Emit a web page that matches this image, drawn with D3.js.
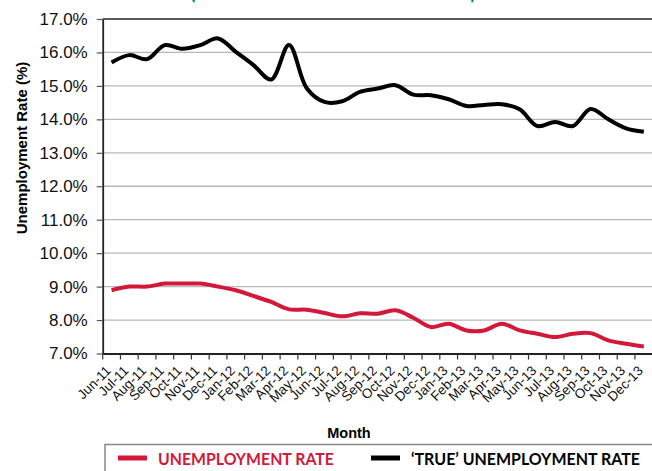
<!DOCTYPE html>
<html>
<head>
<meta charset="utf-8">
<script src="https://cdn.jsdelivr.net/npm/d3@7"></script>
<style>
  body { margin: 0; background: #fff; }
  svg { display: block; }
</style>
</head>
<body>
<script>
var width = 652, height = 471;

var months = ["Jun-11","Jul-11","Aug-11","Sep-11","Oct-11","Nov-11","Dec-11",
  "Jan-12","Feb-12","Mar-12","Apr-12","May-12","Jun-12","Jul-12","Aug-12","Sep-12","Oct-12","Nov-12","Dec-12",
  "Jan-13","Feb-13","Mar-13","Apr-13","May-13","Jun-13","Jul-13","Aug-13","Sep-13","Oct-13","Nov-13","Dec-13"];

// official rate (red)
var unemployment = [8.89, 9.0, 9.0, 9.09, 9.09, 9.09, 9.0,
  8.89, 8.72, 8.54, 8.32, 8.31, 8.21, 8.11, 8.2, 8.19, 8.29, 8.07, 7.79,
  7.89, 7.69, 7.69, 7.89, 7.69, 7.59, 7.49, 7.59, 7.61, 7.39, 7.29, 7.21];

// 'true' rate (black)
var trueRate = [15.70, 15.92, 15.80, 16.22, 16.11, 16.22, 16.42,
  16.02, 15.62, 15.19, 16.22, 14.93, 14.52, 14.54, 14.82, 14.92, 15.02, 14.74, 14.72,
  14.60, 14.40, 14.43, 14.45, 14.30, 13.80, 13.92, 13.80, 14.31, 14.00, 13.73, 13.63];

var yTicks = [7, 8, 9, 10, 11, 12, 13, 14, 15, 16, 17];

var redColor = "#d2193a";
var greenColor = "#00876a";

var plotLeft = 102.7, plotRight = 652.7, plotTop = 19, plotBottom = 353.5;

var svg = d3.select("body").append("svg")
  .attr("width", width)
  .attr("height", height);

var x = d3.scaleBand().domain(months).range([plotLeft, plotRight]).padding(0);
var y = d3.scaleLinear().domain([7, 17]).range([plotBottom, plotTop]);
var bw = x.bandwidth();

// cut-off subtitle at top
svg.append("text")
  .attr("x", 190).attr("y", -1)
  .attr("textLength", 286).attr("lengthAdjust", "spacingAndGlyphs")
  .style("font-family", "Lato, sans-serif").style("font-weight", "bold")
  .style("font-size", "22px").attr("fill", greenColor)
  .text("(JUNE 2011 – DECEMBER 2013)");

// gridlines
svg.append("g").selectAll("line")
  .data(yTicks.slice(1))
  .enter().append("line")
  .attr("x1", plotLeft).attr("x2", width)
  .attr("y1", function(d) { return y(d); })
  .attr("y2", function(d) { return y(d); })
  .attr("stroke", function(d) { return d == 17 ? "#222" : "#b8b8b8"; })
  .attr("stroke-width", function(d) { return d == 17 ? 1.6 : 1.3; });

// y axis
var yAxis = svg.append("g")
  .attr("transform", "translate(" + plotLeft + ",0)")
  .call(d3.axisLeft(y).tickValues(yTicks).tickSize(6).tickSizeOuter(0)
    .tickFormat(function(d) { return d.toFixed(1) + "%"; }));
yAxis.select(".domain").attr("stroke", "#222").attr("stroke-width", 1.8);
yAxis.selectAll(".tick line").attr("stroke", "#555").attr("stroke-width", 1.2);
yAxis.selectAll(".tick text")
  .attr("x", -15)
  .style("font-family", "'Liberation Sans', Arial, sans-serif")
  .style("font-size", "17px").attr("fill", "#111");

// x axis, ticks on the category edges
var xAxis = svg.append("g")
  .attr("transform", "translate(0," + plotBottom + ")")
  .call(d3.axisBottom(x).tickSize(6).tickSizeOuter(0));
xAxis.select(".domain").attr("stroke", "#222").attr("stroke-width", 1.8);
xAxis.selectAll(".tick line")
  .attr("x1", -bw / 2).attr("x2", -bw / 2)
  .attr("stroke", "#333").attr("stroke-width", 1.2);
xAxis.selectAll(".tick text")
  .attr("text-anchor", "end")
  .attr("y", 0).attr("dy", 0)
  .attr("transform", "translate(0,18) rotate(-45)")
  .style("font-family", "'Liberation Sans', Arial, sans-serif")
  .style("font-size", "13.5px").attr("fill", "#111");

// axis titles
svg.append("text")
  .attr("transform", "translate(27,148) rotate(-90)")
  .attr("text-anchor", "middle")
  .style("font-family", "'Liberation Sans', Arial, sans-serif")
  .style("font-weight", "bold").style("font-size", "15px")
  .text("Unemployment Rate (%)");

svg.append("text")
  .attr("x", 349).attr("y", 438)
  .attr("text-anchor", "middle")
  .style("font-family", "'Liberation Sans', Arial, sans-serif")
  .style("font-weight", "bold").style("font-size", "14.5px")
  .text("Month");

// lines
var line = d3.line()
  .x(function(d, i) { return x(months[i]) + bw / 2; })
  .y(function(d) { return y(d); })
  .curve(d3.curveCatmullRom.alpha(0.5));

svg.append("path")
  .datum(trueRate)
  .attr("d", line)
  .attr("fill", "none")
  .attr("stroke", "#000")
  .attr("stroke-width", 4)
  .attr("stroke-linejoin", "round");

svg.append("path")
  .datum(unemployment)
  .attr("d", line)
  .attr("fill", "none")
  .attr("stroke", redColor)
  .attr("stroke-width", 4)
  .attr("stroke-linejoin", "round");

// legend
var legend = svg.append("g");
legend.append("rect")
  .attr("x", 105).attr("y", 444.5)
  .attr("width", 600).attr("height", 60)
  .attr("fill", "#fff")
  .attr("stroke", "#888").attr("stroke-width", 1.5);

var legendItems = [
  {label: "UNEMPLOYMENT RATE", color: redColor, lx: 118, tx: 158, tw: 176},
  {label: "\u2018TRUE\u2019 UNEMPLOYMENT RATE", color: "#000", lx: 371, tx: 411, tw: 229}
];

legendItems.forEach(function(d) {
  legend.append("line")
    .attr("x1", d.lx).attr("x2", d.lx + 29)
    .attr("y1", 458).attr("y2", 458)
    .attr("stroke", d.color).attr("stroke-width", 5);
  var t = legend.append("text")
    .style("font-family", "Lato, sans-serif").style("font-weight", "bold")
    .style("font-size", "17.5px").attr("fill", d.color)
    .text(d.label);
  var natural = t.node().getComputedTextLength();
  t.attr("transform", "translate(" + d.tx + ",465) scale(" + (d.tw / natural) + ",1)");
});
</script>
</body>
</html>
